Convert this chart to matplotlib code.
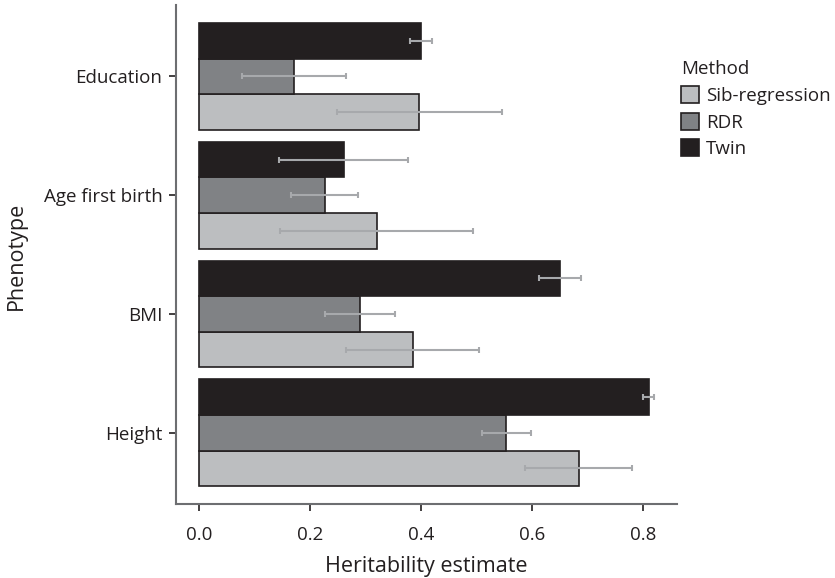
import numpy as np
import matplotlib
matplotlib.use("Agg")
import matplotlib.pyplot as plt
from matplotlib.patches import Patch

plt.rcParams['font.family'] = ['Open Sans', 'DejaVu Sans']

phenotypes = ["Education", "Age first birth", "BMI", "Height"]
methods = ["Sib-regression", "RDR", "Twin"]

sib_vals = [0.397, 0.320, 0.385, 0.684]
sib_err = [0.148, 0.174, 0.120, 0.097]
rdr_vals = [0.170, 0.226, 0.289, 0.554]
rdr_err = [0.094, 0.060, 0.063, 0.045]
twin_vals = [0.400, 0.260, 0.651, 0.811]
twin_err = [0.020, 0.116, 0.038, 0.010]

colors = {"Sib-regression": "#bcbec0", "RDR": "#808285", "Twin": "#231f20"}
edge = "#231f20"
err_color = "#a7a9ac"
text_color = "#231f20"

W, H = 835, 578
fig = plt.figure(figsize=(W / 100, H / 100), dpi=100)
ax = fig.add_axes([0.211, 0.128, 0.600, 0.863])

y = np.arange(len(phenotypes))
bar_h = 0.3
series = [
    ("Sib-regression", sib_vals, sib_err, 0.3),
    ("RDR", rdr_vals, rdr_err, 0.0),
    ("Twin", twin_vals, twin_err, -0.3),
]
for name, vals, errs, off in series:
    ax.barh(y + off, vals, height=bar_h, color=colors[name], edgecolor=edge,
            linewidth=1.2, zorder=2)
    ax.errorbar(vals, y + off, xerr=errs, fmt="none", ecolor=err_color,
                elinewidth=1.5, capsize=2.5, capthick=1.5, zorder=3)

ax.set_ylim(3.6, -0.6)
ax.set_xlim(-0.042, 0.862)
ax.set_yticks(y)
ax.set_yticklabels(phenotypes)
ax.set_xticks([0.0, 0.2, 0.4, 0.6, 0.8])
ax.set_xticklabels(["0.0", "0.2", "0.4", "0.6", "0.8"])

# axis titles placed in figure pixels
fig.text(0.5 * (176 + 677) / W, 1 - 572 / H, "Heritability estimate",
         fontsize=15.5, color=text_color, ha="center", va="baseline")
fig.text(16.5 / W, 1 - 256 / H, "Phenotype", fontsize=15.5, color=text_color,
         rotation=90, ha="center", va="center")

for s in ["top", "right"]:
    ax.spines[s].set_visible(False)
for s in ["left", "bottom"]:
    ax.spines[s].set_color("#6d6e71")
    ax.spines[s].set_linewidth(1.5)
ax.tick_params(axis="both", colors=text_color, labelsize=13.5, length=5,
               width=1.2, labelcolor=text_color)
ax.tick_params(axis="x", pad=11)
ax.tick_params(axis="y", pad=5)

handles = [Patch(facecolor=colors[m], edgecolor=edge, linewidth=1.2, label=m)
           for m in methods]
leg = fig.legend(handles=handles, title="Method", loc="upper left",
                 bbox_to_anchor=(0.795, 0.925), frameon=False, fontsize=13.5,
                 title_fontsize=13.5, handlelength=1.0, handleheight=1.0,
                 handletextpad=0.35, labelspacing=0.42)
leg._legend_box.align = "left"
for t in leg.get_texts():
    t.set_color(text_color)
leg.get_title().set_color(text_color)

fig.savefig("out.png", dpi=100)
